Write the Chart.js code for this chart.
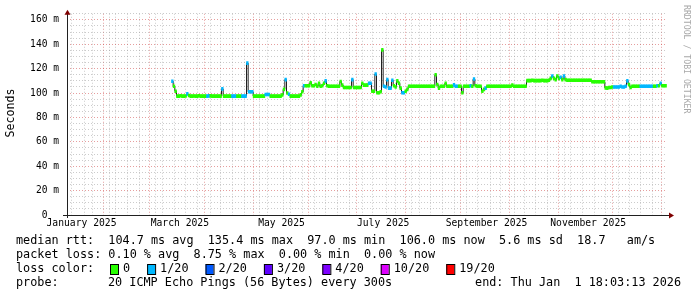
<!DOCTYPE html>
<html>
<head>
<meta charset="utf-8">
<script src="https://cdn.jsdelivr.net/npm/chart.js@4.4.0/dist/chart.umd.min.js"></script>
<style>
html, body { margin: 0; padding: 0; background: #fff; }
#wrap { width: 697px; height: 297px; }
</style>
</head>
<body>
<div id="wrap"><canvas id="myChart" width="697" height="297"></canvas></div>
<script>
// days are counted from 2025-01-01 (day 0)
var firstDay = 69; // 2025-03-11
// median rtt in ms, one value per day
var median = [
  109.7, 105.5, 101.5, 97.5, 97.5, 97.8, 97.5, 97.5, 97.6, 99.3,
  98, 97.5, 97.5, 97.6, 97.5, 97.5, 97.8, 97.5, 97.5, 97.5,
  97.5, 97.5, 97.7, 97.7, 97.5, 97.5, 97.5, 97.5, 97.5, 97.5,
  103.4, 97.5, 97.5, 97.5, 97.5, 97.5, 97.5, 97.5, 97.5, 97.5,
  97.5, 97.5, 97.5, 97.5, 97.5, 124.5, 101, 101, 101, 97.5,
  97.5, 97.5, 97.5, 97.5, 97.5, 97.5, 98.8, 98.8, 98.8, 97.5,
  97.5, 97.5, 97.5, 97.5, 97.5, 97.5, 98.5, 103, 111, 100,
  99, 97.5, 97.5, 97.5, 97.5, 97.5, 97.5, 98.5, 101, 106,
  106, 106, 106, 108.5, 106, 106, 107, 105.5, 108, 105.5,
  106, 108, 110, 106, 105.5, 105.5, 105.5, 105.5, 105.5, 105.5,
  105.5, 109.5, 106.5, 104.5, 104.5, 104.5, 104.5, 104.5, 111, 104.5,
  104.5, 104.5, 104.5, 104.5, 108, 106.5, 106.5, 106.5, 108, 108,
  101.5, 101.5, 115.6, 100.2, 100.2, 101, 135.4, 105.6, 105, 111,
  104, 104, 110.5, 106, 105, 110, 108, 104, 100.2, 100.2,
  101.5, 103, 105.6, 105.6, 105.6, 105.6, 105.6, 105.6, 105.6, 105.6,
  105.6, 105.6, 105.6, 105.6, 105.6, 105.6, 105.6, 105.6, 115, 107,
  104, 105.6, 105.6, 105.6, 108, 105.6, 105.6, 105.6, 105.6, 106.7,
  105.6, 105.6, 105.6, 105.6, 100.2, 105.6, 105.6, 105.6, 105.6, 106,
  105.6, 111.5, 106, 105.6, 105.6, 105.6, 101.5, 103, 104, 105.6,
  105.6, 105.6, 105.6, 105.6, 105.6, 105.6, 105.6, 105.6, 105.6, 105.6,
  105.6, 105.6, 105.6, 105.6, 106.5, 105.6, 105.6, 105.6, 105.6, 105.6,
  105.6, 105.6, 105.6, 110.2, 110.2, 110.2, 110.5, 110.2, 110.2, 110.2,
  110.2, 110.2, 110.5, 110.2, 110.2, 110.2, 110.5, 112, 114, 112,
  111, 114, 112, 113, 111, 114, 111, 110.5, 110.5, 110.5,
  110.5, 110.5, 110.5, 110.5, 110.5, 110.5, 110.5, 110.5, 110.5, 110.5,
  110.5, 110.5, 109.2, 109.2, 109.2, 109.2, 109.2, 109.2, 109.2, 109.2,
  104.2, 104, 104.5, 104.5, 105, 105, 105, 105, 105, 105.5,
  105, 105, 105.5, 110, 107, 104.5, 105.6, 105.6, 105.6, 105.6,
  105.6, 105.6, 105.6, 105.6, 105.6, 105.6, 105.6, 105.6, 105.6, 105.6,
  105.6, 106, 106, 108, 106, 106, 106
];
// loss class per day (index into lossColors)
var loss = [
  1, 0, 0, 0, 0, 0, 0, 0, 0, 1,
  0, 0, 0, 0, 0, 0, 0, 0, 0, 0,
  0, 1, 1, 0, 0, 0, 0, 0, 0, 0,
  1, 0, 0, 0, 0, 0, 1, 1, 1, 0,
  0, 0, 1, 1, 1, 1, 1, 1, 1, 0,
  0, 0, 0, 0, 0, 0, 1, 1, 1, 0,
  0, 0, 0, 0, 0, 0, 0, 0, 1, 0,
  1, 0, 0, 0, 0, 0, 0, 0, 0, 1,
  0, 0, 0, 0, 0, 0, 0, 0, 0, 0,
  0, 0, 1, 0, 0, 0, 0, 0, 0, 0,
  0, 0, 0, 0, 0, 0, 0, 0, 1, 0,
  0, 0, 0, 0, 0, 0, 0, 0, 1, 1,
  0, 0, 1, 0, 0, 0, 0, 1, 1, 1,
  1, 1, 1, 0, 0, 0, 0, 0, 1, 1,
  0, 0, 0, 0, 0, 0, 0, 0, 0, 0,
  0, 0, 0, 0, 0, 0, 0, 0, 0, 0,
  0, 0, 0, 0, 0, 0, 0, 0, 0, 1,
  1, 1, 0, 0, 0, 0, 0, 0, 0, 1,
  0, 1, 0, 0, 0, 0, 0, 0, 1, 0,
  0, 0, 0, 0, 0, 0, 0, 0, 0, 0,
  0, 0, 0, 0, 0, 0, 0, 0, 0, 0,
  0, 0, 0, 0, 0, 0, 0, 0, 0, 0,
  0, 0, 0, 0, 0, 0, 0, 0, 1, 0,
  0, 0, 0, 1, 0, 1, 0, 0, 0, 0,
  0, 0, 0, 0, 0, 0, 0, 0, 0, 0,
  0, 0, 0, 0, 0, 0, 0, 0, 0, 0,
  0, 0, 0, 0, 0, 1, 1, 1, 1, 1,
  1, 1, 1, 1, 0, 0, 0, 0, 0, 0,
  0, 1, 1, 1, 1, 1, 1, 1, 1, 0,
  0, 1, 0, 1, 0, 0, 0
];
var lossColors = ['#26ff00', '#00b8ff', '#0059ff', '#5e00ff', '#7e00ff', '#dd00ff', '#ff0000'];
var lossLabels = ['0', '1/20', '2/20', '3/20', '4/20', '10/20', '19/20'];

// x axis: month starts (red grid), sundays (grey grid), label positions
var monthStarts = [31, 59, 90, 120, 151, 181, 212, 243, 273, 304, 334, 365];
var weekStarts = [11, 18, 25, 32, 39, 46, 53, 60, 67, 74, 81, 88, 95, 102, 109, 116, 123, 130, 137, 144,
  151, 158, 165, 172, 179, 186, 193, 200, 207, 214, 221, 228, 235, 242, 249, 256, 263, 270, 277, 284,
  291, 298, 305, 312, 319, 326, 333, 340, 347, 354, 361];
var labelDays = [15, 74, 135, 196, 258, 319];
var monthLabels = ['January 2025', 'March 2025', 'May 2025', 'July 2025', 'September 2025', 'November 2025'];
var yTickValues = [0, 5, 10, 15, 20, 25, 30, 35, 40, 45, 50, 55, 60, 65, 70, 75, 80, 85, 90, 95,
  100, 105, 110, 115, 120, 125, 130, 135, 140, 145, 150, 155, 160, 165];

var rttLine = 'median rtt:  104.7 ms avg  135.4 ms max  97.0 ms min  106.0 ms now  5.6 ms sd  18.7   am/s';
var lossLine = 'packet loss: 0.10 % avg  8.75 % max  0.00 % min  0.00 % now';
var probeText = '20 ICMP Echo Pings (56 Bytes) every 300s';
var endText = 'end: Thu Jan  1 18:03:13 2026';

var MONO = '"DejaVu Sans Mono", monospace';
var gridMinor = 'rgba(140,140,140,0.45)';
var gridMajor = 'rgba(200,40,40,0.45)';

// build tick list for the x axis
var xTickInfo = [];
weekStarts.forEach(function (d) { xTickInfo.push({ value: d, kind: 'minor', label: '' }); });
monthStarts.forEach(function (d) { xTickInfo.push({ value: d, kind: 'major', label: '' }); });
labelDays.forEach(function (d, i) { xTickInfo.push({ value: d, kind: 'label', label: monthLabels[i] }); });
xTickInfo.sort(function (a, b) { return a.value - b.value; });

var bandData = median.map(function (v, i) {
  return { x: firstDay + i + 0.5, y: [v - 1.2, v + 1.2] };
});
var lineData = median.map(function (v, i) {
  return { x: firstDay + i + 0.5, y: v };
});

var decorations = {
  id: 'decorations',
  beforeDraw: function (c) {
    var ctx = c.ctx;
    ctx.save();
    ctx.fillStyle = '#ffffff';
    ctx.fillRect(0, 0, c.width, c.height);
    ctx.restore();
  },
  afterDraw: function (c) {
    var ctx = c.ctx;
    var a = c.chartArea;
    ctx.save();
    // axes
    ctx.strokeStyle = '#202020';
    ctx.lineWidth = 1;
    ctx.beginPath();
    ctx.moveTo(63, a.bottom + 0.5);
    ctx.lineTo(a.right + 2, a.bottom + 0.5);
    ctx.moveTo(a.left + 0.5, a.bottom + 3);
    ctx.lineTo(a.left + 0.5, a.top);
    ctx.stroke();
    // arrows
    ctx.fillStyle = '#7f0000';
    ctx.beginPath();
    ctx.moveTo(a.left - 2.5, a.top + 1);
    ctx.lineTo(a.left + 3.5, a.top + 1);
    ctx.lineTo(a.left + 0.5, a.top - 4);
    ctx.closePath();
    ctx.fill();
    ctx.beginPath();
    ctx.moveTo(a.right + 2, a.bottom - 2.5);
    ctx.lineTo(a.right + 2, a.bottom + 3.5);
    ctx.lineTo(a.right + 7, a.bottom + 0.5);
    ctx.closePath();
    ctx.fill();

    // y axis title
    ctx.fillStyle = '#000';
    ctx.font = '11.6px ' + MONO;
    ctx.textAlign = 'center';
    ctx.textBaseline = 'middle';
    ctx.save();
    ctx.translate(11, 113);
    ctx.rotate(-Math.PI / 2);
    ctx.fillText('Seconds', 0, 0);
    ctx.restore();

    // watermark
    ctx.save();
    ctx.fillStyle = '#a8a8a8';
    ctx.font = '8.2px ' + MONO;
    ctx.textAlign = 'left';
    ctx.translate(686, 5);
    ctx.rotate(Math.PI / 2);
    ctx.fillText('RRDTOOL / TOBI OETIKER', 0, 0);
    ctx.restore();

    // legend
    ctx.font = '11.8px ' + MONO;
    ctx.textAlign = 'left';
    ctx.textBaseline = 'middle';
    ctx.fillStyle = '#000';
    ctx.fillText(rttLine, 16, 241);
    ctx.fillText(lossLine, 16, 255);
    ctx.fillText('loss color:', 16, 269);
    var x = 110;
    lossLabels.forEach(function (lab, i) {
      ctx.fillStyle = lossColors[i];
      ctx.fillRect(x, 264, 8, 10);
      ctx.strokeStyle = '#000';
      ctx.strokeRect(x + 0.5, 264.5, 8, 10);
      ctx.fillStyle = '#000';
      ctx.fillText(lab, x + 13, 269);
      x = x + 13 + ctx.measureText(lab).width + 17;
    });
    ctx.fillText('probe:', 16, 283);
    ctx.fillText(probeText, 108, 283);
    ctx.textAlign = 'right';
    ctx.fillText(endText, 681, 283);
    ctx.restore();
  }
};

var chart = document.querySelector('#myChart');
var myChart = new Chart(chart, {
  type: 'bar',
  data: {
    datasets: [{
      type: 'bar',
      label: 'loss band',
      data: bandData,
      backgroundColor: loss.map(function (l) { return lossColors[l]; }),
      borderWidth: 0,
      barPercentage: 1,
      categoryPercentage: 1,
      order: 0
    }, {
      type: 'line',
      label: 'median',
      data: lineData,
      borderColor: '#202020',
      borderWidth: 1,
      pointRadius: 0,
      stepped: 'middle',
      fill: false,
      order: 1
    }]
  },
  plugins: [decorations],
  options: {
    responsive: false,
    animation: false,
    devicePixelRatio: 1,
    layout: { padding: { left: 0, right: 30, top: 12, bottom: 0 } },
    plugins: {
      legend: { display: false },
      tooltip: { enabled: false },
      title: { display: false }
    },
    scales: {
      x: {
        type: 'linear',
        min: 6.3,
        max: 366.3,
        offset: false,
        afterBuildTicks: function (scale) {
          scale.ticks = xTickInfo.map(function (t) { return { value: t.value }; });
        },
        afterFit: function (scale) { scale.height = 82; },
        ticks: {
          autoSkip: false,
          maxRotation: 0,
          minRotation: 0,
          padding: 3,
          color: '#000',
          font: { family: MONO, size: 9.7 },
          callback: function (v, i) { return xTickInfo[i] ? xTickInfo[i].label : ''; }
        },
        grid: {
          drawTicks: false,
          lineWidth: 1,
          color: function (ctx) {
            var t = xTickInfo[ctx.index];
            if (!t || t.kind === 'label') return 'rgba(0,0,0,0)';
            return t.kind === 'major' ? gridMajor : gridMinor;
          }
        },
        border: { display: false, dash: [1, 2] }
      },
      y: {
        type: 'linear',
        min: 0,
        max: 165,
        afterBuildTicks: function (scale) {
          scale.ticks = yTickValues.map(function (v) { return { value: v }; });
        },
        afterFit: function (scale) { scale.width = 67; },
        ticks: {
          autoSkip: false,
          padding: 8,
          color: '#000',
          font: { family: MONO, size: 9.6 },
          callback: function (v) {
            if (v % 20 !== 0) return '';
            return v === 0 ? '0  ' : v + ' m';
          }
        },
        grid: {
          drawTicks: false,
          lineWidth: 1,
          color: function (ctx) {
            var v = ctx.tick ? ctx.tick.value : 0;
            if (v === 0) return 'rgba(0,0,0,0)';
            return v % 20 === 0 ? gridMajor : gridMinor;
          }
        },
        border: { display: false, dash: [1, 2] }
      }
    }
  }
});
</script>
</body>
</html>
